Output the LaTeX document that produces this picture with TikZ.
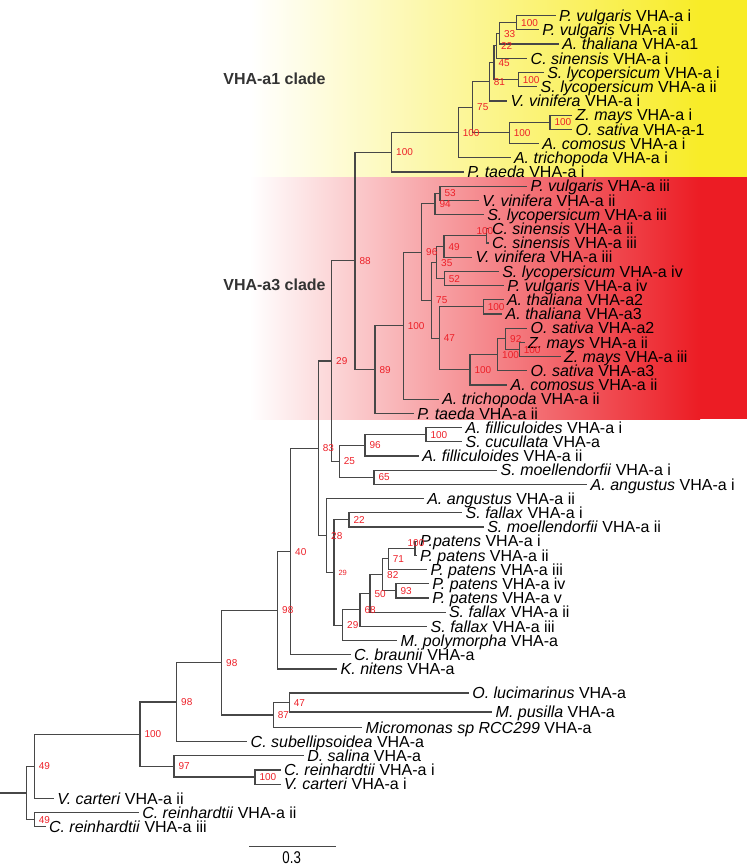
\documentclass[tikz,border=0pt]{standalone}
\usepackage{fontspec}
\setmainfont{Liberation Sans}
\usetikzlibrary{calc}
\definecolor{bootred}{RGB}{237,32,40}
\definecolor{aoneyellow}{RGB}{248,236,40}
\definecolor{athreered}{RGB}{236,28,36}
\tikzset{
  branch/.style={
    draw=black!72,
    line width=1.2pt,
    line cap=rect
  },
  leaf/.style={
    anchor=west,
    inner xsep=4pt,
    inner ysep=0pt,
    outer sep=0pt,
    text height=11.5pt,
    text depth=0pt,
    font=\fontsize{16}{18}\selectfont
  },
  bootbase/.style={
    inner sep=0pt,
    outer sep=0pt,
    text height=7.2pt,
    text depth=0pt,
    text=bootred,
    font=\fontsize{10}{12}\selectfont
  },
  boot/.style={
    bootbase,
    anchor=west,
    xshift=4.5pt
  },
  cladelabel/.style={
    font=\bfseries\fontsize{16}{18}\selectfont,
    text=black!80
  }
}
% clade: name, x, upper child, lower child
\newcommand\cladenode[4]{%
  \path let \p1=(#3), \p2=(#4) in coordinate (#1) at (#2pt,{0.5*(\y1+\y2)});
  \draw[branch] (#1) |- (#3);
  \draw[branch] (#1) |- (#4);
}

\begin{document}
\begin{tikzpicture}[x=1pt,y=-1pt]
  \useasboundingbox (0,0) rectangle (747,867);
  % clade backgrounds
  \shade[left color=white, right color=aoneyellow] (250,0) rectangle (700,177);
  \fill[aoneyellow] (699.5,0) rectangle (747,177);
  \shade[left color=white, right color=athreered] (250,177) rectangle (700,419);
  \fill[athreered] (699.5,177) rectangle (747,419);

  \node[cladelabel] (a1lab) at (274.5,78.3) {VHA-a1 clade};
  \node[cladelabel] (a3lab) at (274.5,285) {VHA-a3 clade};

  % tips
  \foreach \nm/\tx/\ty/\txt in {
      pvA/555/15.7/{\textit{P. vulgaris} VHA-a i},
      pvB/538.3/29.9/{\textit{P. vulgaris} VHA-a ii},
      atA/558.3/44.1/{\textit{A. thaliana} VHA-a1},
      csA/526.7/58.3/{\textit{C. sinensis} VHA-a i},
      slA/543.3/72.5/{\textit{S. lycopersicum} VHA-a i},
      slB/536.7/86.7/{\textit{S. lycopersicum} VHA-a ii},
      vvA/506.7/100.9/{\textit{V. vinifera} VHA-a i},
      zmA/571.7/115.1/{\textit{Z. mays} VHA-a i},
      osA/571.7/129.3/{\textit{O. sativa} VHA-a-1},
      acA/538.3/143.5/{\textit{A. comosus} VHA-a i},
      amA/510/157.7/{\textit{A. trichopoda} VHA-a i},
      ptA/463.3/171.9/{\textit{P. taeda} VHA-a i},
      pvC/526.7/186.1/{\textit{P. vulgaris} VHA-a iii},
      vvB/478.3/200.3/{\textit{V. vinifera} VHA-a ii},
      slC/483.3/214.5/{\textit{S. lycopersicum} VHA-a iii},
      csB/488/228.7/{\textit{C. sinensis} VHA-a ii},
      csC/488/242.9/{\textit{C. sinensis} VHA-a iii},
      vvC/471.7/257.1/{\textit{V. vinifera} VHA-a iii},
      slD/498.3/271.3/{\textit{S. lycopersicum} VHA-a iv},
      pvD/503.3/285.5/{\textit{P. vulgaris} VHA-a iv},
      atB/503/299.7/{\textit{A. thaliana} VHA-a2},
      atC/501.7/313.9/{\textit{A. thaliana} VHA-a3},
      osB/526.7/328.1/{\textit{O. sativa} VHA-a2},
      zmB/524/342.3/{\textit{Z. mays} VHA-a ii},
      zmC/560/356.5/{\textit{Z. mays} VHA-a iii},
      osC/526.7/370.7/{\textit{O. sativa} VHA-a3},
      acB/506.7/384.9/{\textit{A. comosus} VHA-a ii},
      amB/438.3/399.1/{\textit{A. trichopoda} VHA-a ii},
      ptB/413.3/413.3/{\textit{P. taeda} VHA-a ii},
      afA/461.7/427.5/{\textit{A. filliculoides} VHA-a i},
      scA/461.7/441.7/{\textit{S. cucullata} VHA-a},
      afB/418.3/455.9/{\textit{A. filliculoides} VHA-a ii},
      smA/496.7/470.1/{\textit{S. moellendorfii} VHA-a i},
      aaA/586.7/484.3/{\textit{A. angustus} VHA-a i},
      aaB/423.3/498.5/{\textit{A. angustus} VHA-a ii},
      sfA/461.7/512.7/{\textit{S. fallax} VHA-a i},
      smB/483.3/526.9/{\textit{S. moellendorfii} VHA-a ii},
      ppA/416/541.1/{\textit{P.patens} VHA-a i},
      ppB/416/555.3/{\textit{P. patens} VHA-a ii},
      ppC/426.7/569.5/{\textit{P. patens} VHA-a iii},
      ppD/428.3/583.7/{\textit{P. patens} VHA-a iv},
      ppE/428.3/597.9/{\textit{P. patens} VHA-a v},
      sfB/445/612.1/{\textit{S. fallax} VHA-a ii},
      sfC/426.7/626.3/{\textit{S. fallax} VHA-a iii},
      mpA/396.7/640.5/{\textit{M. polymorpha} VHA-a},
      cbA/350/654.7/{\textit{C. braunii} VHA-a},
      knA/336.7/668.9/{\textit{K. nitens} VHA-a},
      olA/468.3/693/{\textit{O. lucimarinus} VHA-a},
      mpuA/491.7/712/{\textit{M. pusilla} VHA-a},
      miA/361.7/727.3/{\textit{Micromonas sp RCC299} VHA-a},
      csubA/246.7/741.5/{\textit{C. subellipsoidea} VHA-a},
      dsA/303.3/755.7/{\textit{D. salina} VHA-a},
      crA/280/769.9/{\textit{C. reinhardtii} VHA-a i},
      vcA/280/784.1/{\textit{V. carteri} VHA-a i},
      vcB/53.3/798.3/{\textit{V. carteri} VHA-a ii},
      crB/138.3/812.5/{\textit{C. reinhardtii} VHA-a ii},
      crC/45/826.7/{\textit{C. reinhardtii} VHA-a iii}}
    \node[leaf] (\nm) at (\tx,\ty) {\txt};

  % VHA-a1 clade
  \cladenode{nPvA}{516.7}{pvA.west}{pvB.west}
  \cladenode{n33}{499.6}{nPvA}{atA.west}
  \cladenode{n22}{496.5}{n33}{csA.west}
  \cladenode{nSl}{518.3}{slA.west}{slB.west}
  \cladenode{n45}{494}{n22}{nSl}
  \cladenode{n81}{489.3}{n45}{vvA.west}
  \cladenode{nZmOs}{550}{zmA.west}{osA.west}
  \cladenode{nMono}{509.3}{nZmOs}{acA.west}
  \cladenode{n75a}{472.7}{n81}{nMono}
  \cladenode{nAng}{458.3}{n75a}{amA.west}
  \cladenode{nA1}{391.7}{nAng}{ptA.west}
  % VHA-a3 clade
  \cladenode{n53}{440}{pvC.west}{vvB.west}
  \cladenode{n94}{435}{n53}{slC.west}
  \cladenode{nCs}{486.7}{csB.west}{csC.west}
  \cladenode{n49}{444}{nCs}{vvC.west}
  \cladenode{n52}{444.3}{slD.west}{pvD.west}
  \cladenode{n35}{436.7}{n49}{n52}
  \cladenode{nAt}{483.3}{atB.west}{atC.west}
  \cladenode{nZm}{519.3}{zmB.west}{zmC.west}
  \cladenode{n92}{505.7}{osB.west}{nZm}
  \cladenode{nZO}{497.7}{n92}{osC.west}
  \cladenode{nMono2}{470}{nZO}{acB.west}
  \cladenode{n47}{439.3}{nAt}{nMono2}
  \cladenode{n75}{431.7}{n35}{n47}
  \cladenode{n96}{421.7}{n94}{n75}
  \cladenode{nAng2}{403.3}{n96}{amB.west}
  \cladenode{nA3}{375}{nAng2}{ptB.west}
  \cladenode{n88}{355}{nA1}{nA3}
  % ferns, mosses and the rest
  \cladenode{nAf}{426}{afA.west}{scA.west}
  \cladenode{n96b}{365}{nAf}{afB.west}
  \cladenode{n65}{374}{smA.west}{aaA.west}
  \cladenode{n25}{339.3}{n96b}{n65}
  \cladenode{n29a}{331.7}{n88}{n25}
  \cladenode{n22b}{349}{sfA.west}{smB.west}
  \cladenode{nPp}{415}{ppA.west}{ppB.west}
  \cladenode{n71}{388.3}{nPp}{ppC.west}
  \cladenode{n93}{396}{ppD.west}{ppE.west}
  \cladenode{n82}{382.7}{n71}{n93}
  \cladenode{n50}{370}{n82}{sfB.west}
  \cladenode{n68}{360}{n50}{sfC.west}
  \cladenode{n29c}{342.7}{n68}{mpA.west}
  \cladenode{n29b}{334}{n22b}{n29c}
  \cladenode{n28}{326.7}{aaB.west}{n29b}
  \cladenode{n83}{318.3}{n29a}{n28}
  \cladenode{n40}{290.7}{n83}{cbA.west}
  \cladenode{n98a}{277.7}{n40}{knA.west}
  \cladenode{n47b}{289.3}{olA.west}{mpuA.west}
  \cladenode{n87}{273.3}{n47b}{miA.west}
  \cladenode{n98b}{221.7}{n98a}{n87}
  \cladenode{n98c}{176.7}{n98b}{csubA.west}
  \cladenode{nCrVc}{255}{crA.west}{vcA.west}
  \cladenode{n97}{174}{dsA.west}{nCrVc}
  \cladenode{n100d}{140}{n98c}{n97}
  \cladenode{n49a}{34.3}{n100d}{vcB.west}
  \cladenode{n49b}{34.3}{crB.west}{crC.west}
  \cladenode{nRoot}{26.7}{n49a}{n49b}
  \coordinate (stem) at (0,0);
  \draw[branch] (nRoot) -- (nRoot -| stem);

  % bootstrap values
  \foreach \nd/\bs in {nPvA/100, n33/33, n22/22, nSl/100, n45/45, n81/81,
      nZmOs/100, nMono/100, n75a/75, nAng/100, nA1/100,
      n53/53, n94/94, n49/49, n52/52, n35/35, nAt/100, nZm/100, n92/92,
      nZO/100, nMono2/100, n47/47, n75/75, n96/96, nAng2/100, nA3/89, n88/88,
      nAf/100, n96b/96, n65/65, n25/25, n29a/29, n22b/22, n71/71, n93/93,
      n82/82, n50/50, n68/68, n29c/29, n28/28, n83/83, n40/40, n98a/98,
      n47b/47, n87/87, n98b/98, n98c/98, nCrVc/100, n97/97, n100d/100,
      n49a/49, n49b/49}
    \node[boot] (b\nd) at (\nd) {\bs};
  \node[bootbase, anchor=east, xshift=6.5pt, yshift=5pt] (bnCs) at (nCs) {100};
  \node[bootbase, xshift=1pt, yshift=5pt] (bnPp) at (nPp) {100};
  \node[boot, text height=5.4pt, font=\fontsize{7.5}{9}\selectfont] (bn29b) at (n29b) {29};

  % scale bar
  \coordinate (sbL) at (249.3,846.7);
  \coordinate (sbR) at (335,846.7);
  \draw[branch] (sbL) -- (sbR);
  \node[font=\fontsize{17}{19}\selectfont, inner sep=0pt, text height=12.5pt, text depth=0pt] (sbT) at (291.7,857) {\scalebox{0.78}[1]{0.3}};
\end{tikzpicture}
\end{document}
